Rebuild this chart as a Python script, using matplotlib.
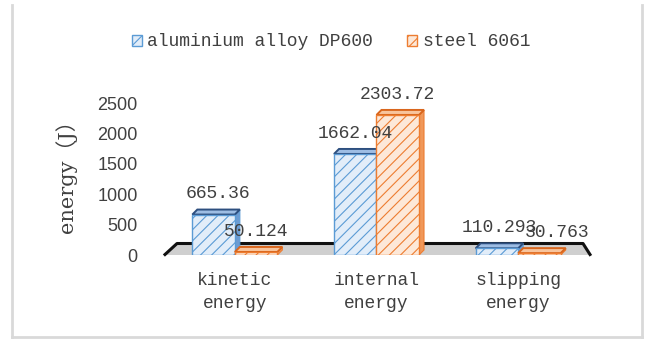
import matplotlib
matplotlib.use("Agg")
import matplotlib.pyplot as plt
from matplotlib.patches import Polygon, Patch
from matplotlib.lines import Line2D

categories = ["kinetic\nenergy", "internal\nenergy", "slipping\nenergy"]
series_names = ["aluminium alloy DP600", "steel 6061"]
aluminium = [665.36, 1662.04, 110.293]
steel = [50.124, 2303.72, 30.763]
yticks = [0, 500, 1000, 1500, 2000, 2500]

W, H = 645, 339
fig = plt.figure(figsize=(W / 100, H / 100), dpi=100)
fig.patch.set_facecolor("white")
plt.rcParams["hatch.linewidth"] = 0.8

def fx(x):
    return x / W

def fy(y):
    return 1 - y / H

ax_left, ax_right, ax_bot, ax_top = 164, 589, 255, 103
ax = fig.add_axes([fx(ax_left), fy(ax_bot), (ax_right - ax_left) / W, (ax_bot - ax_top) / H])
ax.set_xlim(-0.5, 2.5)
ax.set_ylim(0, 2500)
for s in ax.spines.values():
    s.set_visible(False)
ax.patch.set_alpha(0)

mono = "Liberation Mono"
txtcol = "#404040"

ax.set_yticks(yticks)
ax.set_yticklabels([str(t) for t in yticks], fontsize=13, family="Liberation Sans", color=txtcol)
ax.tick_params(axis="y", length=0, pad=19)
ax.set_xticks(range(len(categories)))
ax.set_xticklabels(categories, fontsize=13, family=mono, color=txtcol, linespacing=1.45)
ax.tick_params(axis="x", length=0, pad=12)

ax.set_ylabel("energy（J）", family=["DejaVu Serif", "Noto Sans CJK SC"], fontsize=15, color=txtcol)
ax.yaxis.set_label_coords(fx(77 - ax_left) / ((ax_right - ax_left) / W), 0.55)

# pixel -> data scale
p0 = ax.transData.transform((0, 0))
p1 = ax.transData.transform((1, 1000))
sx = p1[0] - p0[0]
sy = (p1[1] - p0[1]) / 1000
depth = 5
dx = depth / sx
dy = depth / sy

# floor (decoration, behind the bars)
floor = Polygon([(fx(165), fy(255)), (fx(177), fy(243)), (fx(583), fy(243)), (fx(590), fy(255))],
                closed=True, transform=fig.transFigure, facecolor="#cfcfcf", edgecolor="none",
                zorder=0, clip_on=False)
ax.add_patch(floor)
ax.add_line(Line2D([fx(165), fx(177), fx(583), fx(590)], [fy(254.5), fy(243.5), fy(243.5), fy(254.5)],
                   transform=fig.transFigure, color="#111111", lw=2.2, zorder=1, clip_on=False))

bw = 0.3
styles = [
    dict(front="#e2edf9", edge="#5b9bd5", top="#9dbde4", side="#6c9bd2", topedge="#2d4f7f"),
    dict(front="#fde8d8", edge="#ed7d31", top="#f8c49c", side="#f0985a", topedge="#d9661d"),
]
# horizontal nudges (points) of value labels, [series][category]
label_nudge = [[3, 0, 2], [0, 0, 13]]

for i in range(len(categories)):
    for j, vals in enumerate([aluminium, steel]):
        st = styles[j]
        h = vals[i]
        x0 = i - bw + j * bw
        z = 3 + i * 2 + j
        side = Polygon([(x0 + bw, 0), (x0 + bw, h), (x0 + bw + dx, h + dy), (x0 + bw + dx, dy)],
                       closed=True, facecolor=st["side"], edgecolor=st["edge"], lw=0.8, zorder=z)
        top = Polygon([(x0, h), (x0 + dx, h + dy), (x0 + bw + dx, h + dy), (x0 + bw, h)],
                      closed=True, facecolor=st["top"], edgecolor=st["topedge"], lw=1.4, zorder=z)
        ax.add_patch(side)
        ax.add_patch(top)
        ax.bar(x0, h, width=bw, align="edge", facecolor=st["front"], edgecolor=st["edge"],
               hatch="///", lw=1.0, zorder=z)
        ax.annotate(f"{h:g}", xy=(x0 + bw / 2, h), xytext=(label_nudge[j][i], 15),
                    textcoords="offset points", ha="center", va="center", fontsize=13,
                    family=mono, color=txtcol, zorder=20, annotation_clip=False)

handles = [Patch(facecolor=styles[k]["front"], edgecolor=styles[k]["edge"], hatch="///", lw=1.0)
           for k in range(2)]
leg = fig.legend(handles, series_names, loc="center", bbox_to_anchor=(fx(331), fy(42)), ncol=2,
                 frameon=False, prop={"family": mono, "size": 13}, handlelength=0.55, handleheight=0.55,
                 handletextpad=0.3, columnspacing=1.9, borderaxespad=0, borderpad=0)
for t in leg.get_texts():
    t.set_color(txtcol)

# chart area border
for xs, ys in [([12, 12], [5, 337]), ([642, 642], [5, 337]), ([12, 642], [337, 337])]:
    fig.lines.append(Line2D([fx(v) for v in xs], [fy(v) for v in ys], transform=fig.transFigure,
                            color="#d9d9d9", lw=2))

fig.savefig("out.png", dpi=100)
